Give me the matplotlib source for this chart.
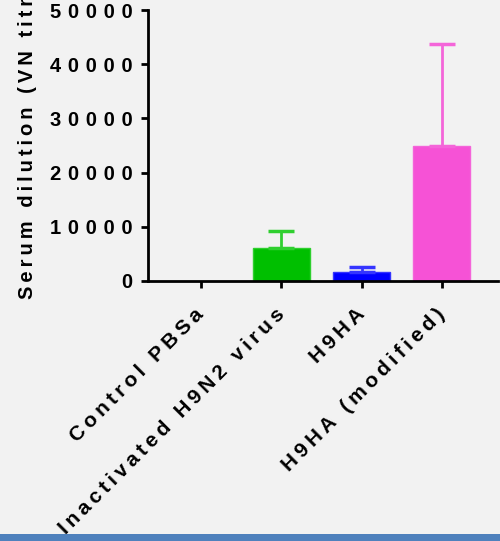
import matplotlib
matplotlib.use("Agg")
import matplotlib.pyplot as plt
from matplotlib.patches import Rectangle
import matplotlib.transforms as mtransforms

categories = ["Control PBSa", "Inactivated H9N2 virus", "H9HA", "H9HA (modified)"]
values = [0, 6100, 1650, 24900]
errors = [0, 3100, 930, 18800]
bar_colors = ["#000000", "#00bf00", "#0000ff", "#f652d6"]
err_colors = ["#000000", "#2fcf2f", "#3535ff", "#f465d9"]
yticks = [0, 10000, 20000, 30000, 40000, 50000]
ylabel = "Serum dilution (VN titre)"

def spaced(s, sp="\u2009"):
    return sp.join(list(s))

FONT = ["Liberation Sans", "DejaVu Sans"]
plt.rcParams["font.family"] = FONT
plt.rcParams["font.weight"] = "bold"

FS = 15.0
bg = "#f2f2f2"
fig = plt.figure(figsize=(5.0, 5.41), dpi=100, facecolor=bg)
ax = fig.add_axes([0.296, 1 - 281 / 541, 0.996 - 0.296, (281 - 10) / 541])
ax.set_facecolor(bg)

x = list(range(len(categories)))
for i in x:
    if values[i] > 0:
        ax.bar(i, values[i], width=0.71, color=bar_colors[i], edgecolor=err_colors[i],
               linewidth=1.0, zorder=2)
        ax.errorbar(i, values[i], yerr=[[0], [errors[i]]], fmt="none",
                    ecolor=err_colors[i], elinewidth=2.0, capsize=9.5, capthick=2.5, zorder=3)

ax.set_xlim(-0.66, 3.70)
ax.set_ylim(0, 50000)
ax.set_yticks(yticks)
ax.set_yticklabels([spaced(str(v), "\u2004") for v in yticks], fontsize=14.5, fontweight="bold")
ax.set_xticks(x)
ax.set_xticklabels([spaced(c) for c in categories], fontsize=FS, fontweight="bold",
                   rotation=45, ha="right", va="center", rotation_mode="anchor")
offset = mtransforms.ScaledTranslation(12 / 100, 0, fig.dpi_scale_trans)
for lab in ax.get_xticklabels():
    lab.set_transform(lab.get_transform() + offset)

for s in ["top", "right"]:
    ax.spines[s].set_visible(False)
for s in ["left", "bottom"]:
    ax.spines[s].set_linewidth(2.0)
    ax.spines[s].set_zorder(4)
ax.tick_params(axis="both", length=5, width=2.0, pad=6)
ax.tick_params(axis="x", pad=17)

fig.text(28 / 500, 1 - 299 / 541, spaced(ylabel, "\u2009"), rotation=90, ha="center", va="bottom",
         fontsize=14.5, fontweight="bold")

fig.patches.append(Rectangle((0, 0), 1, 7 / 541, transform=fig.transFigure,
                             facecolor="#4f81bd", edgecolor="none", zorder=10))

fig.savefig("out.png", dpi=100, facecolor=bg)
